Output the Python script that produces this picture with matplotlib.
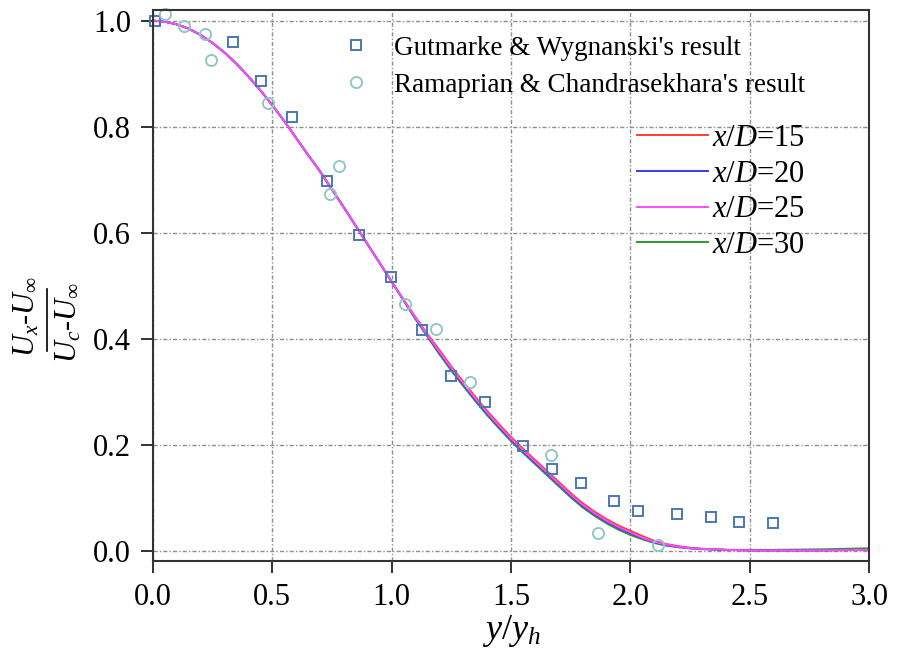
import matplotlib
matplotlib.use("Agg")
import matplotlib.pyplot as plt
from matplotlib.lines import Line2D
from matplotlib.ticker import FormatStrFormatter

plt.rcParams['font.family'] = ['Liberation Serif', 'DejaVu Serif']
plt.rcParams['mathtext.fontset'] = 'custom'
plt.rcParams['mathtext.rm'] = 'Liberation Serif'
plt.rcParams['mathtext.it'] = 'Liberation Serif:italic'
plt.rcParams['mathtext.bf'] = 'Liberation Serif:bold'

# Experimental data: Gutmarke & Wygnanski
gw_x = [0.01, 0.335, 0.453, 0.582, 0.731, 0.865, 0.996, 1.128, 1.247, 1.391,
        1.551, 1.670, 1.791, 1.932, 2.030, 2.193, 2.336, 2.456, 2.598]
gw_y = [1.000, 0.960, 0.887, 0.818, 0.698, 0.595, 0.517, 0.417, 0.329, 0.280,
        0.198, 0.155, 0.128, 0.095, 0.076, 0.070, 0.064, 0.055, 0.052]

# Experimental data: Ramaprian & Chandrasekhara
rc_x = [0.051, 0.132, 0.219, 0.243, 0.484, 0.742, 0.780, 1.056, 1.186, 1.328,
        1.666, 1.865, 2.114]
rc_y = [1.013, 0.989, 0.975, 0.926, 0.845, 0.673, 0.726, 0.466, 0.418, 0.319,
        0.180, 0.033, 0.011]

# Simulated profiles at several downstream stations
eta = [0.00, 0.05, 0.10, 0.15, 0.20, 0.25, 0.30, 0.35, 0.40, 0.45,
       0.50, 0.55, 0.60, 0.65, 0.70, 0.75, 0.80, 0.85, 0.90, 0.95,
       1.00, 1.05, 1.10, 1.15, 1.20, 1.25, 1.30, 1.35, 1.40, 1.45,
       1.50, 1.55, 1.60, 1.65, 1.70, 1.75, 1.80, 1.85, 1.90, 1.95,
       2.00, 2.05, 2.10, 2.15, 2.20, 2.25, 2.30, 2.40, 2.50, 2.60,
       2.80, 3.00]
u_15 = [1.000, 0.998, 0.993, 0.985, 0.973, 0.958, 0.940, 0.919, 0.895, 0.869,
        0.841, 0.811, 0.779, 0.747, 0.716, 0.682, 0.648, 0.613, 0.578, 0.543,
        0.508, 0.474, 0.441, 0.409, 0.379, 0.348, 0.319, 0.291, 0.264, 0.239,
        0.215, 0.193, 0.172, 0.151, 0.130, 0.109, 0.090, 0.074, 0.060, 0.048,
        0.038, 0.028, 0.019, 0.013, 0.009, 0.006, 0.004, 0.002, 0.001, 0.001,
        0.001, 0.002]
u_20 = [1.000, 0.998, 0.993, 0.985, 0.973, 0.958, 0.940, 0.919, 0.895, 0.869,
        0.841, 0.811, 0.779, 0.747, 0.716, 0.682, 0.648, 0.613, 0.578, 0.543,
        0.508, 0.473, 0.439, 0.406, 0.374, 0.343, 0.314, 0.286, 0.259, 0.234,
        0.210, 0.188, 0.167, 0.146, 0.125, 0.104, 0.085, 0.069, 0.055, 0.043,
        0.033, 0.024, 0.016, 0.011, 0.0075, 0.005, 0.0035, 0.002, 0.001, 0.001,
        0.001, 0.002]
u_25 = [1.000, 0.998, 0.993, 0.985, 0.973, 0.958, 0.940, 0.919, 0.895, 0.869,
        0.841, 0.811, 0.779, 0.747, 0.716, 0.682, 0.648, 0.613, 0.578, 0.543,
        0.508, 0.473, 0.440, 0.407, 0.376, 0.345, 0.316, 0.288, 0.261, 0.236,
        0.212, 0.190, 0.169, 0.148, 0.127, 0.106, 0.087, 0.071, 0.057, 0.045,
        0.035, 0.025, 0.017, 0.012, 0.008, 0.005, 0.004, 0.002, 0.001, 0.001,
        0.001, 0.002]
u_30 = [1.000, 0.998, 0.993, 0.985, 0.973, 0.958, 0.940, 0.919, 0.895, 0.869,
        0.841, 0.811, 0.779, 0.747, 0.716, 0.682, 0.648, 0.613, 0.578, 0.543,
        0.508, 0.472, 0.437, 0.404, 0.371, 0.340, 0.311, 0.283, 0.256, 0.231,
        0.207, 0.185, 0.164, 0.143, 0.122, 0.101, 0.082, 0.066, 0.052, 0.040,
        0.030, 0.022, 0.015, 0.010, 0.007, 0.005, 0.0035, 0.002, 0.002, 0.002,
        0.003, 0.005]

labels = ["$x/D$=15", "$x/D$=20", "$x/D$=25", "$x/D$=30"]
profiles = {"$x/D$=15": (u_15, "#ff3b3b"),
            "$x/D$=20": (u_20, "#3a3af0"),
            "$x/D$=25": (u_25, "#ff4cff"),
            "$x/D$=30": (u_30, "#2e9a2e")}
draw_order = ["$x/D$=15", "$x/D$=30", "$x/D$=20", "$x/D$=25"]

W, H = 904, 650
fig = plt.figure(figsize=(W / 100, H / 100), dpi=100)
ax = fig.add_axes([152.7 / W, 1 - 561 / H, 716.6 / W, 551 / H])

for key in draw_order:
    vals, col = profiles[key]
    ax.plot(eta, vals, color=col, lw=1.4)

sq = ax.plot(gw_x, gw_y, ls='none', marker='s', ms=7.5, mfc='none',
             mec='#4a78b5', mew=1.4, clip_on=False)[0]
ci = ax.plot(rc_x, rc_y, ls='none', marker='o', ms=8, mfc='none',
             mec='#92c8c4', mew=1.4, clip_on=False)[0]

ax.set_xlim(0, 3.0)
ax.set_ylim(-0.019, 1.02)
ax.set_xticks([0.0, 0.5, 1.0, 1.5, 2.0, 2.5, 3.0])
ax.set_yticks([0.0, 0.2, 0.4, 0.6, 0.8, 1.0])
ax.xaxis.set_major_formatter(FormatStrFormatter('%.1f'))
ax.yaxis.set_major_formatter(FormatStrFormatter('%.1f'))
ax.tick_params(direction='out', length=8.6, width=1.3, labelsize=22,
               colors='#222222', labelcolor='black')
ax.tick_params(axis='x', pad=7)
ax.tick_params(axis='y', pad=7)
for s in ax.spines.values():
    s.set_linewidth(1.5)
    s.set_color('#333333')

ax.grid(True, color='#8e8e8e', ls=(0, (3, 1.5, 1, 1.5)), lw=1.0)
ax.set_axisbelow(True)

ax.set_xlabel('$y/y_h$', fontsize=26, labelpad=1)

# Stacked fraction for the vertical axis title
fig.text(27 / W, 1 - 317 / H, r'$U_x$-$U_\infty$', rotation=90, fontsize=22,
         ha='center', va='center')
fig.text(69 / W, 1 - 323 / H, r'$U_c$-$U_\infty$', rotation=90, fontsize=22,
         ha='center', va='center')
fig.add_artist(Line2D([47 / W, 47 / W], [1 - 289 / H, 1 - 351 / H],
                      color='black', lw=1.2, transform=fig.transFigure))

leg1 = ax.legend([sq, ci], ["Gutmarke & Wygnanski's result",
                            "Ramaprian & Chandrasekhara's result"],
                 loc='upper left', bbox_to_anchor=(0.2497, 0.973),
                 frameon=False, fontsize=19.5, handlelength=1.0,
                 handletextpad=0.9, labelspacing=0.45, borderaxespad=0)
ax.add_artist(leg1)

leg_lines = [Line2D([], [], color=profiles[k][1], lw=1.4) for k in labels]
ax.legend(leg_lines, labels, loc='upper left', bbox_to_anchor=(0.659, 0.8154),
          frameon=False, fontsize=22, handlelength=2.32, handletextpad=0.13,
          labelspacing=0.22, borderaxespad=0)

fig.savefig('out.png', dpi=100)
